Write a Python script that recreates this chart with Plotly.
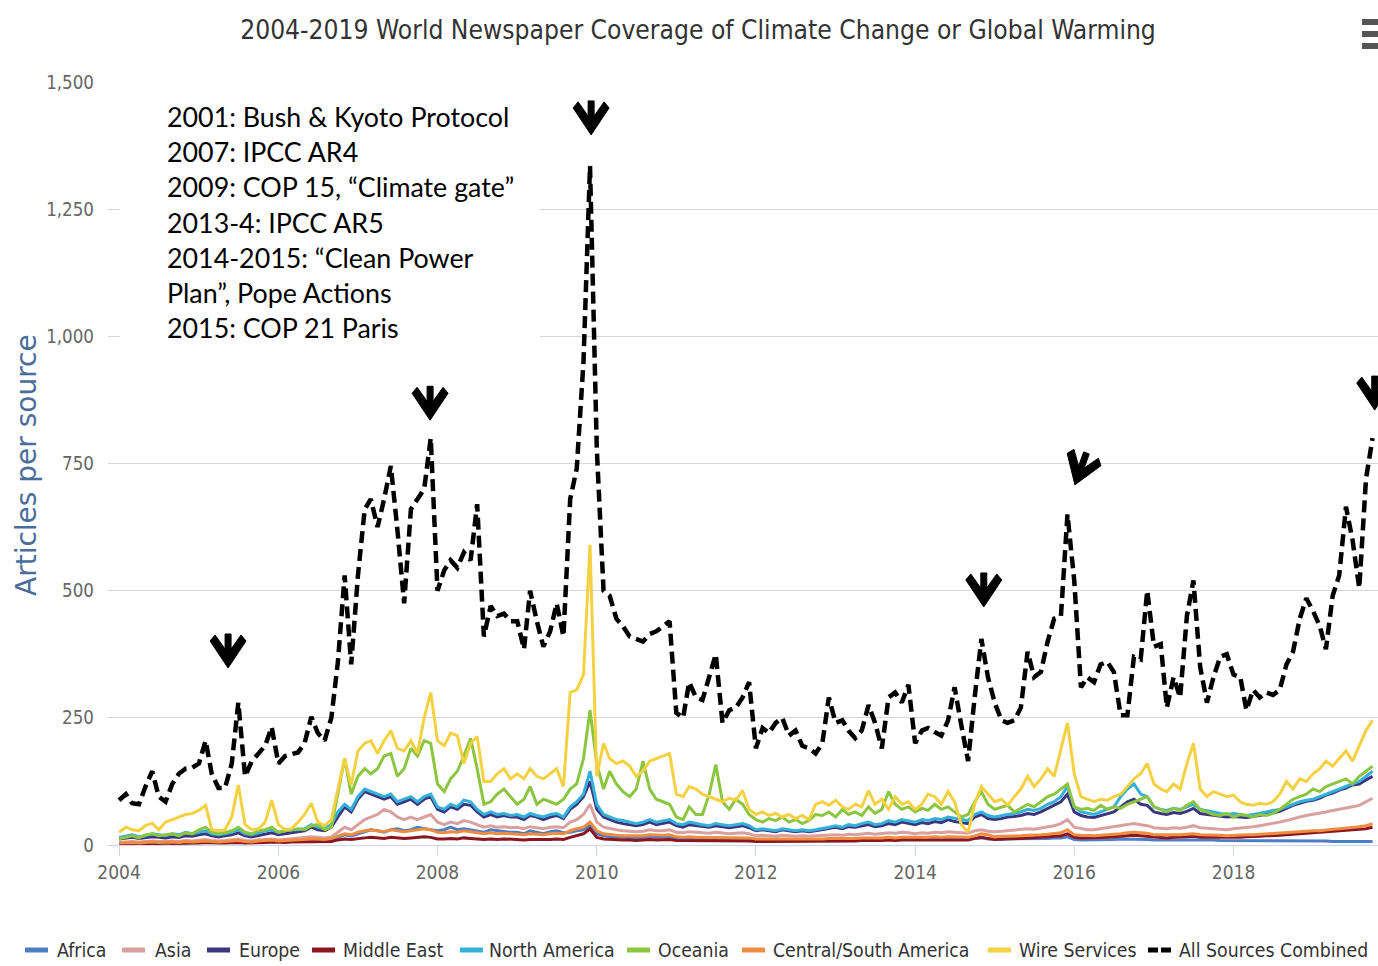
import math
import pandas as pd
import plotly.graph_objects as go

# ---------------- data (monthly, Jan 2004 - Oct 2019) ----------------
months = pd.date_range("2004-01-01", periods=190, freq="MS")

series_names = ["Africa", "Asia", "Europe", "Middle East", "North America",
                "Oceania", "Central/South America", "Wire Services",
                "All Sources Combined"]

africa = [
    3, 4, 4, 3, 4, 5, 4, 5, 5, 4, 5, 5,
    6, 6, 5, 5, 6, 6, 7, 6, 5, 6, 7, 8,
    7, 7, 8, 8, 9, 10, 10, 9, 11, 15, 20, 18,
    22, 25, 30, 28, 25, 30, 32, 28, 30, 35, 32, 30,
    28, 30, 35, 30, 32, 30, 28, 25, 30, 28, 26, 25,
    25, 22, 28, 25, 22, 26, 28, 24, 25, 28, 30, 38,
    22, 18, 16, 15, 15, 14, 14, 15, 16, 15, 15, 16,
    13, 12, 13, 12, 12, 11, 12, 11, 11, 11, 12, 11,
    9, 9, 9, 8, 9, 9, 8, 9, 8, 9, 9, 10,
    10, 9, 10, 10, 11, 11, 10, 11, 12, 11, 12, 12,
    11, 12, 11, 12, 12, 13, 12, 12, 11, 13, 14, 12,
    11, 11, 12, 12, 12, 13, 12, 13, 13, 14, 14, 16,
    11, 10, 10, 10, 11, 11, 11, 12, 12, 12, 12, 11,
    10, 10, 10, 10, 10, 11, 11, 10, 10, 10, 9, 9,
    9, 9, 9, 9, 9, 9, 9, 9, 9, 8, 8, 8,
    8, 8, 8, 7, 7, 7, 7, 7, 7, 7]

asia = [
    5, 6, 7, 6, 7, 8, 7, 8, 8, 7, 9, 8,
    10, 11, 9, 8, 9, 10, 12, 9, 8, 10, 11, 12,
    10, 11, 12, 13, 14, 16, 15, 14, 16, 25, 35, 30,
    40, 50, 55, 60, 70, 65, 55, 50, 55, 50, 55, 60,
    45, 40, 45, 42, 48, 45, 40, 35, 38, 35, 36, 34,
    35, 32, 36, 34, 32, 35, 36, 34, 45, 50, 60, 80,
    45, 35, 32, 30, 28, 27, 26, 27, 30, 28, 28, 30,
    25, 24, 26, 25, 24, 23, 25, 24, 22, 23, 24, 22,
    18, 19, 18, 17, 19, 18, 17, 18, 17, 18, 19, 20,
    20, 19, 21, 20, 22, 23, 21, 22, 24, 23, 25, 24,
    22, 24, 23, 25, 24, 26, 25, 24, 23, 28, 30, 27,
    26, 27, 28, 29, 30, 32, 31, 33, 36, 38, 42, 50,
    35, 32, 30, 30, 32, 34, 35, 38, 40, 42, 40, 38,
    34, 33, 32, 34, 33, 35, 38, 34, 33, 32, 31, 30,
    32, 33, 34, 36, 38, 40, 42, 45, 48, 52, 55, 58,
    60, 62, 65, 68, 70, 72, 75, 78, 85, 92]

europe = [
    12, 14, 15, 13, 14, 16, 15, 14, 16, 15, 18, 17,
    20, 22, 18, 16, 18, 20, 24, 18, 16, 19, 22, 24,
    20, 22, 25, 26, 28, 35, 30, 28, 35, 55, 75, 65,
    90, 105, 100, 95, 90, 95, 80, 85, 90, 80, 90, 95,
    70, 65, 75, 70, 80, 78, 65, 55, 60, 55, 58, 55,
    55, 50, 58, 55, 50, 55, 58, 52, 70, 80, 95, 125,
    70, 55, 50, 45, 42, 40, 38, 40, 45, 40, 42, 45,
    38, 35, 40, 38, 36, 35, 38, 36, 34, 36, 38, 34,
    28, 30, 28, 26, 30, 28, 26, 28, 26, 28, 30, 32,
    35, 32, 36, 35, 38, 40, 36, 38, 42, 40, 45, 42,
    40, 44, 42, 46, 44, 50, 46, 44, 42, 55, 60, 52,
    50, 52, 55, 56, 58, 62, 60, 65, 72, 78, 85, 100,
    65, 58, 55, 54, 58, 62, 65, 75, 85, 90, 80, 78,
    65, 62, 60, 64, 62, 66, 72, 62, 60, 58, 56, 55,
    56, 55, 54, 56, 58, 60, 63, 66, 72, 78, 82, 86,
    88, 92, 98, 102, 108, 112, 118, 120, 128, 135]

middle_east = [
    2, 3, 3, 2, 3, 3, 3, 4, 3, 3, 4, 4,
    4, 5, 4, 4, 4, 5, 5, 4, 4, 5, 5, 6,
    5, 5, 6, 6, 6, 7, 7, 6, 7, 10, 12, 11,
    13, 14, 15, 14, 13, 15, 14, 13, 14, 15, 16, 15,
    12, 12, 13, 12, 14, 13, 12, 11, 12, 11, 12, 11,
    11, 10, 11, 11, 10, 11, 12, 11, 15, 18, 22, 32,
    15, 12, 11, 10, 10, 10, 9, 10, 11, 10, 10, 11,
    9, 9, 9, 9, 9, 8, 9, 8, 8, 8, 9, 8,
    7, 7, 7, 7, 7, 7, 7, 7, 7, 7, 7, 8,
    8, 8, 8, 8, 9, 9, 8, 9, 10, 9, 10, 10,
    10, 10, 10, 11, 10, 11, 11, 10, 10, 13, 15, 13,
    11, 12, 12, 13, 13, 14, 14, 15, 16, 17, 18, 22,
    15, 14, 14, 14, 15, 15, 16, 17, 18, 19, 18, 17,
    15, 15, 14, 15, 15, 16, 17, 15, 15, 15, 14, 14,
    15, 15, 16, 16, 17, 18, 18, 19, 20, 21, 22, 23,
    24, 24, 25, 26, 27, 28, 29, 30, 32, 35]

north_america = [
    15, 18, 20, 16, 18, 22, 20, 18, 22, 20, 25, 22,
    25, 28, 22, 20, 22, 25, 30, 22, 20, 24, 28, 30,
    25, 28, 30, 30, 32, 40, 35, 32, 40, 65, 80, 70,
    95, 110, 105, 100, 95, 100, 85, 90, 95, 85, 95, 100,
    75, 70, 80, 75, 88, 85, 70, 60, 65, 60, 62, 58,
    60, 55, 62, 58, 55, 60, 62, 55, 75, 85, 100, 145,
    80, 60, 55, 50, 48, 45, 42, 45, 50, 45, 48, 50,
    42, 40, 45, 42, 40, 38, 42, 40, 38, 40, 42, 38,
    30, 32, 30, 28, 32, 30, 28, 30, 28, 30, 32, 35,
    38, 35, 40, 38, 42, 45, 40, 42, 48, 45, 50, 48,
    45, 50, 48, 52, 50, 55, 52, 50, 48, 60, 65, 58,
    55, 58, 60, 62, 65, 70, 68, 72, 80, 85, 95, 115,
    75, 65, 62, 60, 65, 70, 75, 95, 110, 120, 100, 95,
    75, 70, 68, 72, 70, 75, 80, 70, 68, 65, 62, 60,
    62, 60, 58, 60, 62, 65, 68, 70, 75, 80, 85, 88,
    90, 95, 100, 105, 110, 115, 120, 125, 135, 145]

oceania = [
    12, 15, 18, 14, 20, 22, 18, 20, 22, 18, 24, 22,
    30, 35, 25, 22, 24, 28, 35, 25, 22, 28, 30, 35,
    25, 28, 30, 32, 30, 38, 40, 30, 35, 100, 170, 100,
    135, 150, 140, 150, 175, 180, 135, 150, 190, 175, 205, 200,
    120, 105, 130, 145, 175, 210, 150, 80, 85, 100, 110, 95,
    80, 90, 115, 80, 90, 85, 80, 90, 110, 120, 170, 265,
    160, 110, 145, 120, 105, 95, 110, 165, 110, 90, 85, 80,
    55, 50, 75, 60, 60, 100, 158, 85, 70, 90, 80, 60,
    50, 45, 52, 48, 55, 45, 50, 42, 48, 60, 58, 65,
    55, 70, 60, 65, 58, 75, 62, 70, 105, 80, 70, 75,
    65, 72, 68, 80, 70, 75, 65, 55, 60, 85, 105, 80,
    70, 75, 78, 65, 72, 80, 75, 85, 95, 100, 110, 120,
    75, 70, 72, 68, 78, 70, 75, 72, 80, 85, 90, 95,
    75, 70, 65, 72, 68, 78, 85, 70, 65, 60, 58, 62,
    55, 60, 58, 55, 60, 58, 62, 70, 80, 90, 95, 100,
    110, 105, 115, 120, 125, 130, 120, 135, 145, 155]

central_south_america = [
    4, 5, 5, 4, 5, 6, 5, 6, 6, 5, 7, 6,
    7, 8, 7, 6, 7, 8, 9, 7, 6, 8, 9, 10,
    8, 9, 10, 10, 11, 12, 12, 11, 13, 18, 22, 20,
    25, 28, 30, 28, 26, 30, 28, 26, 28, 30, 32, 30,
    25, 24, 26, 25, 28, 26, 24, 22, 24, 22, 23, 22,
    22, 20, 22, 21, 20, 22, 23, 22, 28, 32, 35, 45,
    28, 22, 20, 19, 18, 18, 17, 18, 20, 19, 19, 20,
    16, 15, 16, 15, 15, 14, 15, 14, 14, 14, 15, 14,
    12, 12, 12, 11, 12, 12, 11, 12, 11, 12, 12, 13,
    13, 12, 13, 13, 14, 14, 13, 14, 15, 14, 15, 15,
    14, 15, 15, 16, 15, 16, 16, 15, 15, 18, 22, 20,
    16, 17, 17, 18, 18, 19, 19, 20, 21, 22, 24, 30,
    20, 19, 18, 18, 19, 20, 20, 22, 24, 25, 24, 23,
    20, 20, 19, 20, 20, 21, 22, 20, 20, 19, 19, 18,
    19, 19, 20, 20, 21, 22, 22, 23, 24, 25, 26, 27,
    28, 28, 30, 31, 32, 33, 34, 36, 38, 42]

wire_services = [
    25, 35, 30, 28, 38, 43, 30, 45, 50, 55, 60, 62,
    68, 78, 30, 28, 30, 55, 118, 40, 30, 32, 45, 88,
    40, 30, 32, 45, 60, 82, 45, 38, 50, 110, 170, 118,
    185, 200, 205, 180, 205, 225, 190, 185, 205, 180, 250, 300,
    205, 195, 220, 215, 160, 200, 213, 125, 125, 140, 150, 130,
    140, 130, 150, 135, 130, 140, 150, 115, 300, 305, 335, 590,
    135, 200, 170, 160, 165, 155, 135, 145, 165, 170, 175, 180,
    100, 95, 115, 110, 100, 95, 90, 85, 92, 88, 107, 70,
    60, 65, 58, 62, 55, 60, 52, 58, 50, 80, 85, 78,
    88, 75, 70, 80, 75, 107, 80, 90, 70, 95, 80, 85,
    70, 80, 100, 95, 80, 105, 85, 40, 25, 80, 115, 100,
    85, 90, 78, 95, 110, 135, 115, 130, 150, 135, 190, 240,
    140, 95, 90, 85, 90, 88, 95, 100, 115, 130, 140, 160,
    120, 110, 105, 120, 110, 160, 200, 110, 95, 105, 100, 95,
    98, 85, 80, 78, 82, 80, 85, 100, 125, 110, 130, 125,
    140, 150, 165, 155, 170, 185, 165, 195, 225, 245]

all_sources = [
    88, 100, 82, 80, 115, 145, 95, 85, 120, 140, 150, 152,
    160, 205, 140, 112, 112, 160, 280, 135, 165, 180, 195, 232,
    160, 175, 178, 182, 200, 252, 220, 205, 250, 360, 530, 355,
    530, 660, 680, 625, 680, 745, 620, 475, 660, 680, 700, 800,
    500, 540, 560, 545, 575, 560, 670, 410, 470, 450, 455, 440,
    440, 385, 500, 440, 390, 420, 475, 410, 680, 740, 950, 1335,
    780, 500, 490, 445, 430, 410, 405, 400, 415, 420, 430, 440,
    260, 250, 320, 290, 285, 330, 375, 240, 265, 270, 290, 320,
    190, 230, 220, 240, 250, 215, 225, 195, 190, 180, 200, 290,
    240, 245, 225, 210, 225, 275, 240, 190, 290, 300, 280, 315,
    200, 225, 230, 222, 215, 245, 310, 235, 165, 290, 405, 330,
    280, 245, 240, 245, 270, 380, 330, 340, 400, 445, 450, 650,
    520, 310, 330, 320, 355, 360, 340, 255, 255, 370, 365, 500,
    390, 395, 270, 330, 290, 450, 520, 350, 280, 330, 370, 375,
    335, 330, 265, 305, 290, 300, 295, 305, 355, 380, 445, 485,
    460, 430, 385, 490, 530, 665, 600, 505, 720, 800]

series_values = [africa, asia, europe, middle_east, north_america, oceania,
                 central_south_america, wire_services, all_sources]

y_ticks = [0, 250, 500, 750, 1000, 1250, 1500]

title_text = "2004-2019 World Newspaper Coverage of Climate Change or Global Warming"
y_title = "Articles per source"

note_lines = [
    "2001: Bush & Kyoto Protocol",
    "2007: IPCC AR4",
    "2009: COP 15, \u201cClimate gate\u201d",
    "2013-4: IPCC AR5",
    "2014-2015: \u201cClean Power",
    "Plan\u201d, Pope Actions",
    "2015: COP 21 Paris",
]

# event markers (chevrons): date and level of the tip
arrow_dates = ["2005-05-15", "2007-11-28", "2009-12-06", "2014-11-12",
               "2016-01-04", "2019-10-11"]
arrow_levels = [348, 835, 1396, 468, 708, 855]

# ---------------- styles / layout helpers ----------------
colors = ["#4c7ec6", "#d9a0a0", "#3b3680", "#8c1620", "#35b0d8",
          "#8cc540", "#f08c40", "#f3d143", "#000000"]
arrow_tilt = [0, 0, 0, 0, -20, 0]

W, H = 1378, 966
L, R, T, B = 108, 0, 82, 121
PW, PH = W - L - R, H - T - B

def px_x(px):
    return (px - L) / PW

def px_y(py):
    return (H - B - py) / PH

NARROW = "Liberation Sans Narrow, DejaVu Sans Condensed, Arial Narrow, sans-serif"

fig = go.Figure()
for name, vals, col in zip(series_names, series_values, colors):
    if name == "All Sources Combined":
        line = dict(color=col, width=4.5, dash="12px,6px")
    else:
        line = dict(color=col, width=3)
    fig.add_trace(go.Scatter(x=months, y=vals, mode="lines", name=name,
                             line=line, showlegend=False))

shapes = []
annotations = []

# white note box
shapes.append(dict(type="rect", xref="paper", yref="paper",
                   x0=px_x(120), x1=px_x(540), y0=px_y(346), y1=px_y(92),
                   fillcolor="white", line=dict(width=0), layer="above"))

for i, line_text in enumerate(note_lines):
    annotations.append(dict(xref="paper", yref="paper", x=px_x(165),
                            y=px_y(117 + i * 35.2), xanchor="left",
                            yanchor="middle", showarrow=False, text=line_text,
                            font=dict(family="Lato, sans-serif", size=26.8,
                                      color="black")))

# chevrons
base = [(0, 0), (-18, 27), (-13, 33), (-3, 19), (-3, 34), (3, 34),
        (3, 19), (13, 33), (18, 27)]

def chevron_path(angle):
    a = math.radians(angle)
    pts = [(x * math.cos(a) - y * math.sin(a), x * math.sin(a) + y * math.cos(a))
           for x, y in base]
    return "M " + " L ".join(f"{x:.1f},{y:.1f}" for x, y in pts) + " Z"

for d, v, ang in zip(arrow_dates, arrow_levels, arrow_tilt):
    shapes.append(dict(type="path", xref="x", yref="y",
                       xsizemode="pixel", ysizemode="pixel",
                       xanchor=d, yanchor=v, path=chevron_path(ang),
                       fillcolor="black", line=dict(color="black", width=1),
                       layer="above"))

# manual legend
legend_sym_x = [25, 122, 207, 312, 460, 627, 742, 988, 1148]
legend_text_x = [55, 153, 237, 341, 487, 656, 771, 1017, 1177]
legend_y = 950
for name, col, sx, tx in zip(series_names, colors, legend_sym_x, legend_text_x):
    dash = "10px,3px" if name == "All Sources Combined" else "solid"
    shapes.append(dict(type="line", xref="paper", yref="paper",
                       x0=px_x(sx), x1=px_x(sx + 23), y0=px_y(legend_y),
                       y1=px_y(legend_y), line=dict(color=col, width=5, dash=dash)))
    annotations.append(dict(xref="paper", yref="paper", x=px_x(tx),
                            y=px_y(legend_y), xanchor="left", yanchor="middle",
                            showarrow=False, text=name,
                            font=dict(family=NARROW, size=19.3, color="#333333")))

# y axis title
annotations.append(dict(xref="paper", yref="paper", x=px_x(26), y=px_y(465),
                        xanchor="center", yanchor="middle", textangle=-90,
                        showarrow=False, text=y_title,
                        font=dict(family="DejaVu Sans, sans-serif", size=28,
                                  color="#4a6d9c")))

# export menu icon
for yy in [22, 34, 46]:
    shapes.append(dict(type="rect", xref="paper", yref="paper",
                       x0=px_x(1362), x1=px_x(1380), y0=px_y(yy + 3),
                       y1=px_y(yy - 3), fillcolor="#555555", line=dict(width=0)))

fig.update_layout(
    width=W, height=H,
    margin=dict(l=L, r=R, t=T, b=B, pad=0),
    paper_bgcolor="white", plot_bgcolor="white",
    title=dict(text=title_text, xref="container", yref="container",
               x=698 / W, y=1 - 30 / H, xanchor="center", yanchor="middle",
               font=dict(family=NARROW, size=26.2, color="#333333")),
    xaxis=dict(type="date", range=["2003-11-11", "2019-10-26"],
               tick0="2004-01-01", dtick="M24", tickformat="%Y",
               showgrid=False, zeroline=False, showline=True,
               linecolor="#ccd6eb", linewidth=1, ticks="outside",
               ticklen=10, tickcolor="#ccd6eb", ticklabelstandoff=0,
               tickfont=dict(family=NARROW, size=19, color="#666666")),
    yaxis=dict(range=[0, 1500], tickvals=y_ticks, tickformat=",",
               showgrid=True, gridcolor="#d6d6d6", gridwidth=1.3,
               zeroline=False, showline=False, ticks="",
               ticklabelstandoff=13,
               tickfont=dict(family=NARROW, size=18.6, color="#666666")),
    shapes=shapes, annotations=annotations,
    showlegend=False,
)

fig.write_html("out.html", config={"displayModeBar": False},
               post_script="document.body.style.margin='0px';")
